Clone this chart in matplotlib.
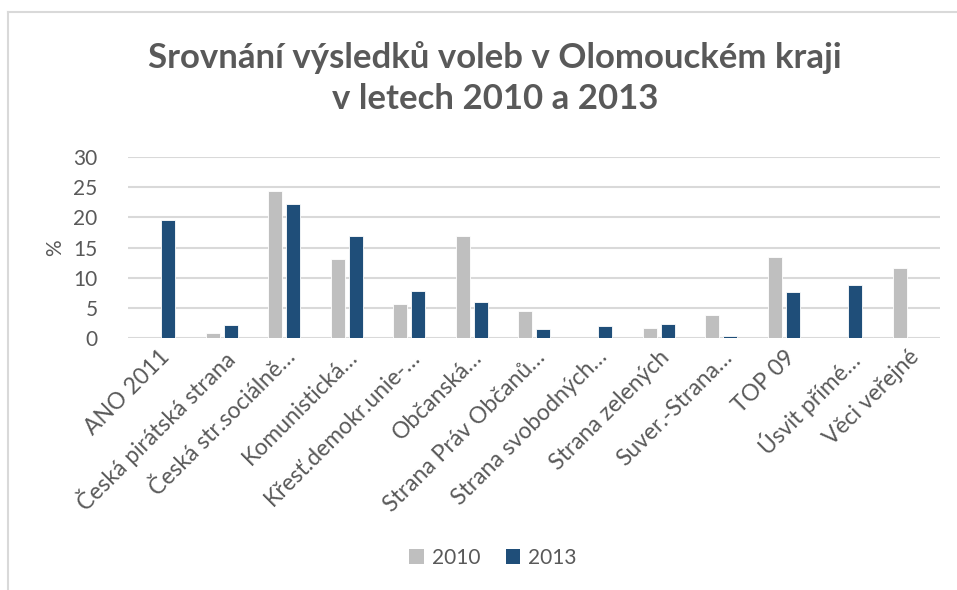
import matplotlib
matplotlib.use("Agg")
import matplotlib.pyplot as plt
import numpy as np
from matplotlib.lines import Line2D
from matplotlib.patches import Patch

categories = ["ANO 2011", "Česká pirátská strana", "Česká str.sociálně…", "Komunistická…",
              "Křesť.demokr.unie-…", "Občanská…", "Strana Práv Občanů…", "Strana svobodných…",
              "Strana zelených", "Suver.-Strana…", "TOP 09", "Úsvit přímé…", "Věci veřejné"]
v2010 = [0, 0.77, 24.3, 13.1, 5.56, 16.9, 4.4, 0, 1.7, 3.74, 13.4, 0, 11.6]
v2013 = [19.55, 2.2, 22.2, 16.95, 7.87, 6.0, 1.54, 1.93, 2.3, 0.33, 7.7, 8.86, 0]
series_names = ["2010", "2013"]
yticks = [0, 5, 10, 15, 20, 25, 30]

plt.rcParams['font.family'] = ['Lato', 'DejaVu Sans']
TXT = "#595959"
C10 = "#BFBFBF"
C13 = "#1F4E79"

W, H = 957, 590
fig = plt.figure(figsize=(W/100, H/100), dpi=100)
ax = fig.add_axes([128/W, (H-338)/H, 812/W, (338-157)/H])

x = np.arange(len(categories))
bw = 0.224
off = 0.144
ax.bar(x - off, v2010, bw, color=C10, edgecolor="white", linewidth=0.6, zorder=3)
ax.bar(x + off, v2013, bw, color=C13, edgecolor="white", linewidth=0.6, zorder=3)

ax.set_xlim(-0.5, len(categories) - 0.5)
ax.set_ylim(0, 30)
ax.set_yticks(yticks)
ax.set_yticklabels([str(t) for t in yticks], fontsize=15, color=TXT)
ax.grid(axis="y", color="#D9D9D9", linewidth=1.5, zorder=0)
for s in ax.spines.values():
    s.set_visible(False)
ax.tick_params(axis="y", length=0, pad=22)
ax.tick_params(axis="x", length=0, pad=6)
ax.set_xticks(x)
ax.set_xticklabels(categories, rotation=45, ha="right", rotation_mode="anchor",
                   fontsize=16.5, color=TXT)
ax.set_ylabel("%", fontsize=15, color=TXT, labelpad=6)

fig.text(495/W, (H-78)/H, "Srovnání výsledků voleb v Olomouckém kraji\nv letech 2010 a 2013",
         ha="center", va="center", fontsize=25, fontweight="bold", color=TXT,
         linespacing=1.38)

handles = [Patch(facecolor=C10), Patch(facecolor=C13)]
fig.legend(handles, series_names, loc="center", bbox_to_anchor=(493/W, (H-558)/H),
           ncol=2, frameon=False, fontsize=15, labelcolor=TXT,
           handlelength=0.7, handleheight=0.7, handletextpad=0.4, columnspacing=1.2)

# chart border
fig.add_artist(Line2D([8/W, 8/W], [0, (H-12)/H], color="#D9D9D9", linewidth=1.5))
fig.add_artist(Line2D([8/W, 1], [(H-12)/H, (H-12)/H], color="#D9D9D9", linewidth=1.5))

fig.savefig("out.png", dpi=100)
